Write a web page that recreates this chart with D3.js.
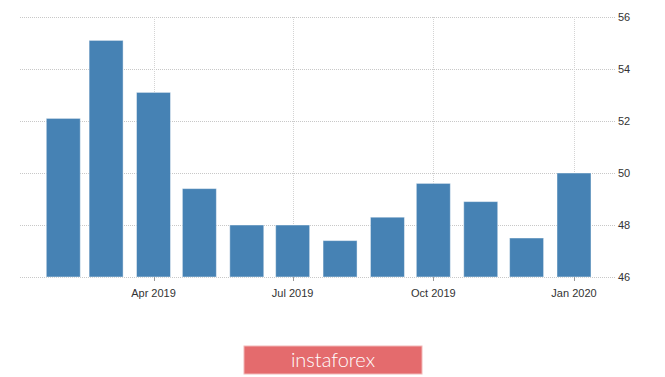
<!DOCTYPE html>
<html>
<head>
<meta charset="utf-8">
<script src="https://cdn.jsdelivr.net/npm/d3@7"></script>
<style>
  html, body { margin: 0; padding: 0; background: #fff; }
  svg { display: block; }
</style>
</head>
<body>
<svg id="chart" width="665" height="377"></svg>
<script>
const months = ["2019-02-01","2019-03-01","2019-04-01","2019-05-01","2019-06-01","2019-07-01",
                "2019-08-01","2019-09-01","2019-10-01","2019-11-01","2019-12-01","2020-01-01"];
const values = [52.1, 55.1, 53.1, 49.4, 48.0, 48.0, 47.4, 48.3, 49.6, 48.9, 47.5, 50.0];
const xTickDates = ["2019-04-01","2019-07-01","2019-10-01","2020-01-01"];
const xTickLabels = ["Apr 2019","Jul 2019","Oct 2019","Jan 2020"];
const yTicks = [46, 48, 50, 52, 54, 56];
const watermark = "instaforex";

const parse = d3.utcParse("%Y-%m-%d");
const svg = d3.select("#chart");
const plotLeft = 20, plotRight = 615, plotTop = 17, plotBottom = 277;

const x = d3.scaleUtc()
  .domain([parse("2019-04-01"), parse("2020-01-01")])
  .range([153.5, 574]);
const y = d3.scaleLinear().domain([46, 56]).range([plotBottom, plotTop]);

// horizontal grid
svg.append("g").selectAll("line").data(yTicks).join("line")
  .attr("x1", plotLeft).attr("x2", plotRight)
  .attr("y1", d => Math.round(y(d)) + 0.5).attr("y2", d => Math.round(y(d)) + 0.5)
  .attr("stroke", "#c8c8c8").attr("stroke-width", 1).attr("stroke-dasharray", "1,1");

// vertical grid
svg.append("g").selectAll("line").data(xTickDates).join("line")
  .attr("x1", d => Math.round(x(parse(d))) + 0.5).attr("x2", d => Math.round(x(parse(d))) + 0.5)
  .attr("y1", plotTop).attr("y2", plotBottom)
  .attr("stroke", "#d4d4d4").attr("stroke-width", 1).attr("stroke-dasharray", "1,1");

// bars
const bw = 34;
svg.append("g").selectAll("rect").data(values).join("rect")
  .attr("x", (d, i) => x(parse(months[i])) - bw / 2)
  .attr("width", bw)
  .attr("y", d => y(d))
  .attr("height", d => y(46) - y(d))
  .attr("fill", "#4682b4")
  .attr("stroke", "rgba(255,255,255,0.45)")
  .attr("stroke-width", 1);

// x axis ticks and labels
const xa = svg.append("g");
xa.selectAll("line").data(xTickDates).join("line")
  .attr("x1", d => Math.round(x(parse(d))) + 0.5).attr("x2", d => Math.round(x(parse(d))) + 0.5)
  .attr("y1", plotBottom).attr("y2", plotBottom + 4)
  .attr("stroke", "#999");
xa.selectAll("text").data(xTickDates).join("text")
  .attr("x", d => x(parse(d)))
  .attr("y", 297)
  .attr("text-anchor", "middle")
  .attr("font-family", "Liberation Sans, Arial, sans-serif")
  .attr("font-size", 11)
  .attr("fill", "#333")
  .text((d, i) => xTickLabels[i]);

// y axis labels
svg.append("g").selectAll("text").data(yTicks).join("text")
  .attr("x", 618)
  .attr("y", d => y(d) + 4)
  .attr("font-family", "Liberation Sans, Arial, sans-serif")
  .attr("font-size", 11)
  .attr("fill", "#333")
  .text(d => d);

// watermark button
const wm = svg.append("g");
wm.append("rect").attr("x", 244).attr("y", 346).attr("width", 178).attr("height", 28)
  .attr("fill", "#e46b6d").attr("stroke", "#f2b8b8").attr("stroke-width", 1);
wm.append("text").attr("x", 333).attr("y", 367)
  .attr("text-anchor", "middle")
  .attr("font-family", "Lato, Open Sans, sans-serif")
  .attr("font-weight", 300)
  .attr("font-size", 20)
  .attr("fill", "#fff")
  .text(watermark);
</script>
</body>
</html>
